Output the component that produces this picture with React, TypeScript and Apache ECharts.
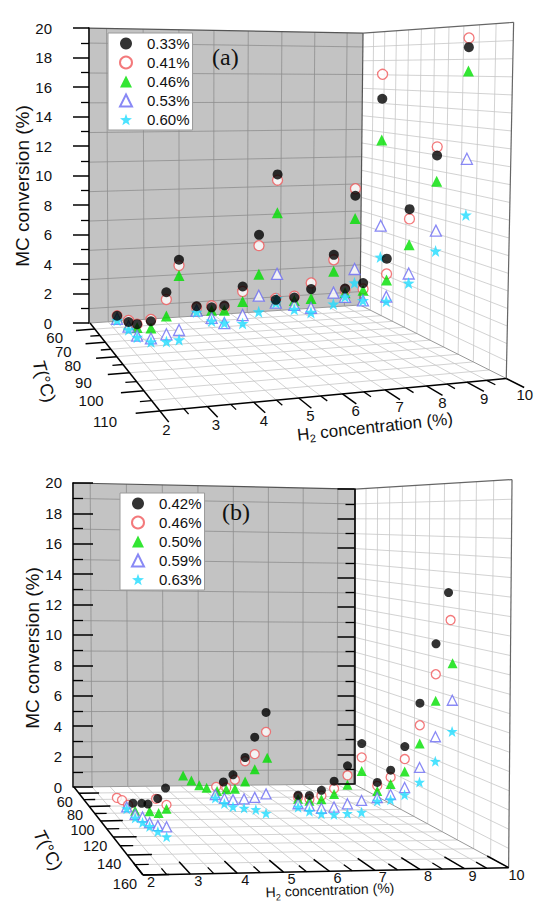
import React, { useEffect, useRef } from 'react';
import * as echarts from 'echarts';

const SANS = '"Liberation Sans", Arial, sans-serif';
const SERIF = '"Liberation Serif", "Times New Roman", serif';
const STAR =
  'path://M0,-10L2.35,-3.24L9.51,-3.09L3.8,1.24L5.88,8.09L0,4L-5.88,8.09L-3.8,1.24L-9.51,-3.09L-2.35,-3.24Z';

// ---------- panel (a) ----------
const A_NAMES = ['0.33%', '0.41%', '0.46%', '0.53%', '0.60%'];
const A_H2 = [
  2.6, 2.6, 2.5, 2.5, 2.5, 2.4, 4.8, 4.8, 4.7, 4.7, 4.6, 4.5,
  7.1, 7.1, 7.0, 7.0, 6.9, 6.85, 9.2, 9.1, 9.1, 9.0, 8.95, 8.9,
];
const A_T = [
  60, 70, 80, 90, 100, 110, 60, 70, 80, 90, 100, 110,
  60, 70, 80, 90, 100, 110, 60, 70, 80, 90, 100, 110,
];
const A_CONV_033 = [
  0.8, 1.2, 1.9, 2.9, 5.3, 7.7, 1.1, 1.8, 2.7, 4.6, 8.2, 11.9,
  1.2, 2.1, 3.4, 6.2, 10.2, 15.8, 1.7, 2.8, 5.1, 8.8, 12.4, 18.6,
];
const A_CONV_041 = [
  0.8, 1.3, 1.9, 3.0, 4.9, 7.4, 1.0, 1.9, 2.6, 4.3, 7.6, 11.6,
  1.3, 2.2, 3.8, 5.9, 10.6, 17.1, 1.6, 2.4, 4.1, 8.2, 12.9, 19.1,
];
const A_CONV_046 = [
  0.7, 1.0, 1.7, 2.5, 4.0, 6.9, 0.9, 1.6, 2.4, 3.7, 6.0, 9.9,
  1.1, 1.9, 2.8, 5.2, 8.9, 13.6, 1.4, 2.3, 3.7, 6.6, 10.9, 17.3,
];
const A_CONV_053 = [
  0.6, 0.9, 1.2, 1.9, 3.0, 4.1, 0.8, 1.1, 1.6, 2.9, 4.8, 6.7,
  1.0, 1.6, 2.2, 3.9, 6.0, 9.0, 1.1, 1.6, 2.6, 4.8, 8.0, 12.5,
];
const A_CONV_060 = [
  0.5, 0.7, 1.1, 1.7, 2.6, 3.6, 0.7, 0.9, 1.6, 2.4, 3.9, 5.4,
  1.0, 1.3, 1.9, 3.2, 5.2, 7.3, 1.1, 1.6, 2.3, 4.2, 6.8, 9.4,
];
const A_T_MAJOR = [60, 70, 80, 90, 100, 110];
const A_T_MINOR = [65, 75, 85, 95, 105];

// ---------- panel (b) ----------
const B_NAMES = ['0.42%', '0.46%', '0.50%', '0.59%', '0.63%'];
const B_042_H2 = [2.5, 2.5, 2.5, 2.5, 2.5, 4.8, 4.8, 4.8, 4.8, 4.8, 6.7, 6.7, 6.7, 6.7, 6.7, 6.7, 8.7, 8.7, 8.7, 8.7, 8.7, 8.6];
const B_042_T = [118, 130, 138, 150, 159, 112, 122, 134, 143, 153, 110, 120, 130, 140, 150, 160, 110, 120, 130, 140, 150, 160];
const B_042_CONV = [1.8, 2.3, 2.6, 3.4, 4.3, 2.7, 3.5, 4.9, 6.3, 7.9, 1.8, 2.2, 2.9, 3.8, 5.0, 6.5, 2.5, 3.6, 5.3, 8.0, 11.4, 14.2];
const B_046_H2 = [2.5, 2.5, 2.5, 2.5, 2.5, 4.8, 4.8, 4.8, 4.8, 4.8, 4.8, 6.7, 6.7, 6.7, 6.7, 6.7, 6.7, 8.7, 8.7, 8.7, 8.7, 8.7, 8.65];
const B_046_T = [94, 102, 111, 148, 160, 104, 115, 124, 134, 143, 153, 110, 120, 130, 140, 150, 160, 110, 120, 130, 140, 150, 160];
const B_046_CONV = [1.1, 1.3, 1.4, 3.3, 3.5, 2.1, 2.5, 3.3, 4.7, 5.4, 6.9, 1.7, 2.0, 2.6, 3.4, 4.5, 5.8, 2.3, 3.2, 4.6, 6.8, 9.8, 12.8];
const B_050_H2 = [2.5, 2.5, 2.5, 2.5, 4.8, 4.8, 4.8, 4.8, 4.8, 4.8, 4.8, 4.8, 4.8, 4.8, 6.7, 6.7, 6.7, 6.7, 6.7, 6.7, 8.7, 8.7, 8.7, 8.7, 8.7, 8.7];
const B_050_T = [121, 140, 151, 160, 63, 74, 84, 93, 105, 115, 124, 134, 143, 154, 110, 120, 130, 140, 150, 160, 110, 120, 130, 140, 150, 160];
const B_050_CONV = [1.5, 2.3, 2.7, 3.3, 1.2, 1.3, 1.4, 1.6, 1.9, 2.4, 2.8, 3.6, 4.6, 5.6, 1.6, 1.9, 2.4, 3.1, 4.0, 5.1, 2.0, 2.8, 3.9, 5.8, 8.4, 10.6];
const B_059_H2 = [2.5, 2.5, 2.5, 2.5, 2.5, 2.5, 4.8, 4.8, 4.8, 4.8, 4.8, 4.8, 6.7, 6.7, 6.7, 6.7, 6.7, 6.7, 8.7, 8.7, 8.7, 8.7, 8.7, 8.7];
const B_059_T = [109, 121, 131, 140, 150, 160, 103, 113, 122, 133, 143, 153, 110, 120, 130, 140, 150, 160, 110, 120, 130, 140, 150, 160];
const B_059_CONV = [1.2, 1.3, 1.6, 1.7, 2.0, 2.4, 1.6, 1.8, 2.1, 2.6, 3.1, 3.7, 1.3, 1.6, 1.9, 2.4, 3.0, 3.6, 1.6, 2.2, 3.0, 4.5, 6.5, 8.7];
const B_063_H2 = [2.5, 2.5, 2.5, 2.5, 2.5, 2.5, 4.8, 4.8, 4.8, 4.8, 4.8, 4.8, 6.7, 6.7, 6.7, 6.7, 6.7, 6.7, 8.7, 8.7, 8.7, 8.7, 8.7, 8.7];
const B_063_T = [109, 121, 131, 140, 150, 160, 103, 113, 122, 133, 144, 153, 110, 120, 130, 140, 150, 160, 110, 120, 130, 140, 150, 160];
const B_063_CONV = [1.1, 1.1, 1.3, 1.5, 1.7, 1.9, 1.4, 1.5, 1.7, 2.1, 2.5, 2.7, 1.1, 1.3, 1.6, 2.0, 2.5, 3.0, 1.4, 1.9, 2.6, 3.7, 5.2, 7.1];
const B_T_MAJOR = [60, 80, 100, 120, 140, 160];
const B_T_MINOR = [70, 90, 110, 130, 150];

const H2_TICKS = [2, 3, 4, 5, 6, 7, 8, 9, 10];

// perspective box: a = (H2-2)/8, b = (T-tMin)/(tMax-tMin), c = conv/20
interface Frame {
  x0: number; y0: number; ax: number; ay: number; bx: number; by: number; cx: number; cz: number;
  g: number; h: number; i: number; tMin: number; tMax: number;
}
const project = (f: Frame, h2: number, t: number, conv: number): number[] => {
  const a = (h2 - 2) / 8;
  const b = (t - f.tMin) / (f.tMax - f.tMin);
  const c = conv / 20;
  const w = 1 + f.g * a + f.h * b + f.i * c;
  return [(f.x0 + f.ax * a + f.bx * b + f.cx * c) / w, (f.y0 + f.ay * a + f.by * b + f.cz * c) / w];
};

interface SeriesData { name: string; h2: number[]; t: number[]; conv: number[] }
interface PanelSpec {
  height: number;
  frame: Frame;
  series: SeriesData[];
  sizes: number[];
  tMajor: number[];
  tMinor: number[];
  tGridStep: number;
  inward: boolean;
  tTick: number[];       // in H2 units
  hTick: number[];       // in T units
  tLabel: number[];      // [dH2, dx, dy]
  hLabel: number[];      // [dT, dx, dy]
  tickFont: number;
  labelMargin: number;
  tag: string; tagPos: number[];
  legendPos: number[];
  mcName: number[];      // x, y
  tName: number[];       // x, y, rotation deg
  h2Name: number[];      // x, y, rotation deg, fontSize
  rightAxis: boolean;
}

const MARKERS = [
  { symbol: 'circle', fill: '#000000', stroke: '#000000', z: 4 },
  { symbol: 'circle', fill: '#ffffff', stroke: '#f0585a', z: 3 },
  { symbol: 'triangle', fill: '#00e000', stroke: '#00e000', z: 3 },
  { symbol: 'triangle', fill: '#ffffff', stroke: '#6c6cf2', z: 3 },
  { symbol: STAR, fill: '#1fdcff', stroke: '#1fdcff', z: 3 },
];

const PANEL_A: PanelSpec = {
  height: 452,
  frame: {
    x0: 90, y0: 323, ax: 300.5, ay: 7.8, bx: 29, by: -17.2, cx: -3.67, cz: -295.5,
    g: 0.0846, h: -0.256, i: -0.019, tMin: 55, tMax: 110,
  },
  series: [
    { name: A_NAMES[0], h2: A_H2, t: A_T, conv: A_CONV_033 },
    { name: A_NAMES[1], h2: A_H2, t: A_T, conv: A_CONV_041 },
    { name: A_NAMES[2], h2: A_H2, t: A_T, conv: A_CONV_046 },
    { name: A_NAMES[3], h2: A_H2, t: A_T, conv: A_CONV_053 },
    { name: A_NAMES[4], h2: A_H2, t: A_T, conv: A_CONV_060 },
  ],
  sizes: [10, 10, 11, 11, 12],
  tMajor: A_T_MAJOR,
  tMinor: A_T_MINOR,
  tGridStep: 5,
  inward: false,
  tTick: [-0.5, -0.25],
  hTick: [5, 2.5],
  tLabel: [-1, 6, 6],
  hLabel: [6.5, -5, 4],
  tickFont: 15,
  labelMargin: 37,
  tag: '(a)', tagPos: [212, 45],
  legendPos: [108, 33],
  mcName: [22, 186],
  tName: [44, 381, -74],
  h2Name: [375, 427, 6, 17],
  rightAxis: false,
};

const PANEL_B: PanelSpec = {
  height: 451,
  frame: {
    x0: 74, y0: 335, ax: 290.8, ay: 7.11, bx: 33.7, by: -16.46, cx: -2.76, cz: -304.33,
    g: 0.0305, h: -0.247, i: -0.0106, tMin: 50, tMax: 160,
  },
  series: [
    { name: B_NAMES[0], h2: B_042_H2, t: B_042_T, conv: B_042_CONV },
    { name: B_NAMES[1], h2: B_046_H2, t: B_046_T, conv: B_046_CONV },
    { name: B_NAMES[2], h2: B_050_H2, t: B_050_T, conv: B_050_CONV },
    { name: B_NAMES[3], h2: B_059_H2, t: B_059_T, conv: B_059_CONV },
    { name: B_NAMES[4], h2: B_063_H2, t: B_063_T, conv: B_063_CONV },
  ],
  sizes: [9, 9, 10, 10, 11],
  tMajor: B_T_MAJOR,
  tMinor: B_T_MINOR,
  tGridStep: 10,
  inward: true,
  tTick: [0.55, 0.3],
  hTick: [-12, -6],
  tLabel: [0, -6, 9],
  hLabel: [0, 8, 7],
  tickFont: 14.5,
  labelMargin: 11,
  tag: '(b)', tagPos: [222, 48],
  legendPos: [120, 41],
  mcName: [32, 196],
  tName: [48, 398, -63],
  h2Name: [330, 438, 2, 14],
  rightAxis: true,
};

const renderFrame = (spec: PanelSpec) => (_params: any, api: any) => {
  const f = spec.frame;
  const { tMin, tMax } = f;
  const P = (h2: number, t: number, c: number): number[] => api.coord(project(f, h2, t, c));
  const els: any[] = [];
  const seg = (p: number[], q: number[], stroke: string, lineWidth: number) =>
    els.push({ type: 'line', shape: { x1: p[0], y1: p[1], x2: q[0], y2: q[1] }, style: { stroke, lineWidth } });
  const quad = (pts: number[][], fill: string) =>
    els.push({ type: 'polygon', shape: { points: pts }, style: { fill } });
  const label = (text: string, p: number[], dx: number, dy: number, align: string) =>
    els.push({
      type: 'text', x: p[0] + dx, y: p[1] + dy,
      style: { text, fill: '#111', fontSize: spec.tickFont, fontFamily: SANS, align, verticalAlign: 'middle' },
    });

  // walls and floor
  quad([P(2, tMin, 0), P(10, tMin, 0), P(10, tMax, 0), P(2, tMax, 0)], '#ffffff');
  quad([P(2, tMin, 0), P(10, tMin, 0), P(10, tMin, 20), P(2, tMin, 20)], '#c3c3c3');
  quad([P(10, tMin, 0), P(10, tMax, 0), P(10, tMax, 20), P(10, tMin, 20)], '#ffffff');

  const light = '#c6c6c6';
  const dark = '#8e8e8e';
  for (let h = 2.5; h < 9.9; h += 0.5) seg(P(h, tMin, 0), P(h, tMax, 0), light, 0.8);
  for (let t = tMin + spec.tGridStep; t < tMax - 0.01; t += spec.tGridStep) {
    seg(P(2, t, 0), P(10, t, 0), light, 0.8);
    seg(P(10, t, 0), P(10, t, 20), light, 0.8);
  }
  for (let c = 1; c < 20; c += 1) seg(P(10, tMin, c), P(10, tMax, c), light, 0.8);
  for (let h = 2.5; h < 10; h += 1) seg(P(h, tMin, 0), P(h, tMin, 20), dark, 0.8);
  for (let c = 1; c < 20; c += 2) seg(P(2, tMin, c), P(10, tMin, c), dark, 0.8);

  // box edges
  seg(P(2, tMin, 20), P(10, tMin, 20), '#555', 1.2);
  seg(P(10, tMin, 20), P(10, tMax, 20), '#666', 1.2);
  seg(P(10, tMax, 20), P(10, tMax, 0), '#666', 1.2);
  seg(P(10, tMin, 0), P(10, tMin, 20), '#555', 1.2);
  seg(P(2, tMin, 0), P(10, tMin, 0), '#999', 1);
  seg(P(10, tMin, 0), P(10, tMax, 0), '#999', 1);

  // T axis
  seg(P(2, tMin, 0), P(2, tMax, 0), '#000', 1.5);
  spec.tMajor.forEach((t) => {
    seg(P(2, t, 0), P(2 + spec.tTick[0], t, 0), '#000', 1.5);
    label(String(t), P(2 + spec.tLabel[0], t, 0), spec.tLabel[1], spec.tLabel[2], 'right');
  });
  spec.tMinor.forEach((t) => seg(P(2, t, 0), P(2 + spec.tTick[1], t, 0), '#000', 1.3));

  // H2 axis
  seg(P(2, tMax, 0), P(10, tMax, 0), '#000', 1.5);
  H2_TICKS.forEach((h) => {
    seg(P(h, tMax, 0), P(h, tMax + spec.hTick[0], 0), '#000', 1.5);
    if (h < 10) seg(P(h + 0.5, tMax, 0), P(h + 0.5, tMax + spec.hTick[1], 0), '#000', 1.3);
    label(String(h), P(h, tMax + spec.hLabel[0], 0), spec.hLabel[1], spec.hLabel[2], 'center');
  });

  return { type: 'group', children: els };
};

const vAxis = (gridIndex: number, position: string, inside: boolean, major: number, minor: number, label: any) => ({
  gridIndex, type: 'value', min: 0, max: 20, interval: 2, position, z: 5,
  axisLine: { show: true, onZero: false, lineStyle: { color: '#000', width: 1.5 } },
  axisTick: { show: true, inside, length: major, lineStyle: { color: '#000', width: 1.5 } },
  minorTick: { show: true, splitNumber: 2, length: minor, lineStyle: { color: '#000', width: 1.3 } },
  axisLabel: label,
  splitLine: { show: false },
});

const buildOption = (spec: PanelSpec): any => {
  const f = spec.frame;
  const lb = project(f, 2, f.tMin, 0);
  const lt = project(f, 2, f.tMin, 20);
  const grids: any[] = [
    { left: (lb[0] + lt[0]) / 2, top: lt[1], width: 200, height: lb[1] - lt[1] },
    { left: 0, top: 0, width: 540, height: spec.height },
  ];
  const xAxes: any[] = [
    { gridIndex: 0, type: 'value', show: false },
    { gridIndex: 1, type: 'value', min: 0, max: 540, show: false },
  ];
  const yAxes: any[] = [
    vAxis(0, 'left', spec.inward, spec.inward ? 20 : 16, spec.inward ? 10 : 8, {
      margin: spec.labelMargin, fontSize: 15, color: '#111', fontFamily: SANS,
    }),
    { gridIndex: 1, type: 'value', min: 0, max: spec.height, inverse: true, show: false },
  ];
  if (spec.rightAxis) {
    // ticks on the back-right vertical edge of the box
    const rb = project(f, 10, f.tMin, 0);
    const rt = project(f, 10, f.tMin, 20);
    grids.push({ left: (rb[0] + rt[0]) / 2 - 100, top: rt[1], width: 100, height: rb[1] - rt[1] });
    xAxes.push({ gridIndex: 2, type: 'value', show: false });
    yAxes.push(vAxis(2, 'right', true, 17, 9, { show: false }));
  }

  const scatter = spec.series.map((s, i) => ({
    type: 'scatter',
    name: s.name,
    xAxisIndex: 1,
    yAxisIndex: 1,
    z: MARKERS[i].z,
    symbol: MARKERS[i].symbol,
    symbolSize: spec.sizes[i],
    itemStyle: { color: MARKERS[i].fill, borderColor: MARKERS[i].stroke, borderWidth: i === 1 || i === 3 ? 1.3 : 0 },
    data: s.h2.map((h, k) => project(f, h, s.t[k], s.conv[k])),
  }));

  return {
    animation: false,
    backgroundColor: '#ffffff',
    grid: grids,
    xAxis: xAxes,
    yAxis: yAxes,
    legend: {
      orient: 'vertical',
      left: spec.legendPos[0],
      top: spec.legendPos[1],
      backgroundColor: '#ffffff',
      borderColor: '#9a9a9a',
      borderWidth: 1,
      borderRadius: 0,
      padding: [3, 3, 3, 11],
      itemGap: 4,
      itemWidth: 12,
      itemHeight: 12,
      selectedMode: false,
      textStyle: { fontSize: 15, fontFamily: SANS, color: '#111', padding: [0, 0, 0, 10] },
      data: spec.series.map((s) => s.name),
    },
    graphic: [
      {
        type: 'text', left: spec.tagPos[0], top: spec.tagPos[1], z: 10,
        style: { text: spec.tag, fill: '#111', fontSize: 24, fontFamily: SERIF },
      },
      {
        type: 'text', x: spec.mcName[0], y: spec.mcName[1], rotation: Math.PI / 2, z: 10,
        style: { text: 'MC conversion (%)', fill: '#111', fontSize: 19, fontFamily: SANS, align: 'center', verticalAlign: 'middle' },
      },
      {
        type: 'text', x: spec.tName[0], y: spec.tName[1], rotation: (spec.tName[2] * Math.PI) / 180, z: 10,
        style: {
          text: '{i|T}{n|(°C)}', align: 'center', verticalAlign: 'middle',
          rich: {
            i: { fontSize: 18, fontFamily: SANS, fontStyle: 'italic', fill: '#111' },
            n: { fontSize: 18, fontFamily: SANS, fill: '#111' },
          },
        },
      },
      {
        type: 'text', x: spec.h2Name[0], y: spec.h2Name[1], rotation: (spec.h2Name[2] * Math.PI) / 180, z: 10,
        style: {
          text: '{n|H}{s|2}{n| concentration (%)}', align: 'center', verticalAlign: 'middle',
          rich: {
            n: { fontSize: spec.h2Name[3], fontFamily: SANS, fill: '#111', lineHeight: 20 },
            s: { fontSize: spec.h2Name[3] * 0.65, fontFamily: SANS, fill: '#111', verticalAlign: 'bottom', lineHeight: 9 },
          },
        },
      },
    ],
    series: [
      {
        type: 'custom',
        xAxisIndex: 1,
        yAxisIndex: 1,
        z: 1,
        silent: true,
        data: [[0, 0]],
        renderItem: renderFrame(spec),
      },
      ...scatter,
    ],
  };
};

const Panel: React.FC<{ spec: PanelSpec }> = ({ spec }) => {
  const chartRef = useRef<HTMLDivElement>(null);

  useEffect(() => {
    if (!chartRef.current) return;
    const chart = echarts.init(chartRef.current, undefined, { renderer: 'svg' });
    chart.setOption(buildOption(spec));
    return () => {
      chart.dispose();
    };
  }, [spec]);

  return <div ref={chartRef} style={{ width: 540, height: spec.height }} />;
};

export default function App() {
  return (
    <div style={{ position: 'absolute', left: 0, top: 0, width: 540, height: 903, background: '#fff' }}>
      <Panel spec={PANEL_A} />
      <Panel spec={PANEL_B} />
    </div>
  );
}
